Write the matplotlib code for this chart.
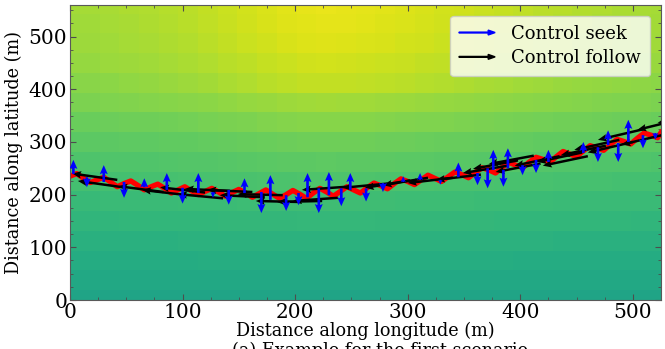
import matplotlib
matplotlib.use('Agg')
import matplotlib.pyplot as plt
import numpy as np
from matplotlib.lines import Line2D
from matplotlib.legend_handler import HandlerBase
from matplotlib.patches import FancyArrow

plt.rcParams['font.family'] = ['DejaVu Serif']

# background field: rows centred every 37.5 m, columns every 17.5 m
row_y = [0, 37.5, 75, 112.5, 150, 187.5, 225, 262.5, 300, 337.5, 375,
         412.5, 450, 487.5, 525, 562.5]
row_mid = [0.585, 0.60, 0.62, 0.64, 0.665, 0.69, 0.72, 0.75, 0.78, 0.82,
           0.86, 0.91, 0.93, 0.95, 0.96, 0.965]
row_edge = [0.583, 0.598, 0.615, 0.635, 0.655, 0.675, 0.70, 0.72, 0.745,
            0.77, 0.80, 0.82, 0.84, 0.85, 0.855, 0.86]
col_x = [0, 17.5, 35, 52.5, 70, 87.5, 105, 122.5, 140, 157.5, 175, 192.5,
         210, 227.5, 245, 262.5, 280, 297.5, 315, 332.5, 350, 367.5, 385,
         402.5, 420, 437.5, 455, 472.5, 490, 507.5, 525]
col_shape = [0.00, 0.04, 0.09, 0.15, 0.21, 0.28, 0.36, 0.46, 0.57, 0.68,
             0.79, 0.90, 0.97, 1.00, 0.98, 0.94, 0.89, 0.83, 0.77, 0.70,
             0.63, 0.56, 0.49, 0.42, 0.36, 0.30, 0.24, 0.19, 0.14, 0.10, 0.06]

# red trajectory
path_x = [0, 6, 12, 18, 24, 30, 36, 42, 48, 54, 60, 66, 72, 78, 84, 90, 96,
          102, 108, 114, 120, 126, 132, 138, 144, 150, 156, 162, 168, 174,
          180, 186, 192, 198, 204, 210, 216, 222, 228, 234, 240, 246, 252,
          258, 264, 270, 276, 282, 288, 294, 300, 306, 312, 318, 324, 330,
          336, 342, 348, 354, 360, 366, 372, 378, 384, 390, 396, 402, 408,
          414, 420, 426, 432, 438, 444, 450, 456, 462, 468, 474, 480, 486,
          492, 498, 504, 510, 516, 522, 525]
path_y = [235, 240, 231, 223, 228, 233, 224, 215, 221, 226, 218, 209, 215,
          220, 212, 203, 209, 215, 207, 200, 206, 212, 205, 197, 204, 210,
          203, 195, 202, 209, 201, 193, 200, 208, 201, 193, 203, 212, 205,
          197, 206, 215, 209, 203, 213, 222, 217, 211, 221, 230, 225, 219,
          228, 237, 231, 225, 234, 243, 238, 232, 242, 251, 247, 241, 252,
          261, 256, 251, 262, 271, 267, 261, 272, 282, 277, 272, 283, 293,
          289, 284, 295, 305, 301, 296, 307, 317, 313, 308, 318]

# black "follow" arrows (tip position and vector)
follow_x = [2, 7, 43, 64, 80, 96, 102, 122, 133, 149, 165, 184, 198, 206,
            242, 262, 278, 300, 325, 349, 358, 372, 378, 395, 415, 420, 436,
            448, 460, 469, 490, 504, 522]
follow_y = [240, 226, 216, 209, 214, 201, 211, 209, 199, 201, 188, 186, 188,
            209, 213, 213, 218, 222, 228, 241, 249, 258, 243, 255, 262, 255,
            275, 285, 280, 304, 295, 323, 336]
follow_u = [-40, -40, -40, -40, -40, -40, -40, -40, -40, -40, -40, -40, -40,
            -40, -40, -40, -40, -40, -40, -40, -40, -40, -40, -40, -40, -40,
            -40, -40, -40, -40, -40, -40, -40]
follow_v = [12, 12, 11, 10, 10, 8, 4, 4, 4, 2, 2, -2, -6, -6, -8, -14, -14,
            -10, -10, -14, -16, -16, -16, -18, -18, -18, -18, -19, -20, -20,
            -20, -21, -21]

# blue "seek" arrows (tail position and vertical length)
seek_x = [3, 15, 30, 48, 66, 86, 100, 114, 127, 141, 155, 170, 178, 192, 203,
          211, 221, 230, 241, 249, 263, 278, 296, 311, 329, 345, 362, 371,
          376, 385, 389, 402, 414, 425, 456, 469, 478, 487, 496, 509, 520]
seek_y = [239, 233, 224, 224, 214, 209, 213, 203, 205, 209, 203, 205, 190,
          199, 203, 195, 212, 199, 212, 209, 212, 222, 224, 228, 228, 233,
          241, 250, 247, 247, 250, 256, 266, 262, 279, 290, 294, 298, 300,
          313, 317]
seek_v = [27, -19, 32, -30, 17, 32, -30, 38, -11, -28, 28, -40, 47, -30, -23,
          46, -47, 44, -34, 32, -25, -17, 11, 13, -9, 28, -23, -38, 38, -32,
          38, -19, -25, 23, 21, -28, 28, -36, 42, -25, -13]

x_ticks = [0, 100, 200, 300, 400, 500]
y_ticks = [0, 100, 200, 300, 400, 500]


class ArrowHandler(HandlerBase):
    def create_artists(self, legend, orig_handle, xdescent, ydescent,
                       width, height, fontsize, trans):
        arr = FancyArrow(-xdescent, height / 2 - ydescent, width, 0,
                         width=0.6, head_width=3.5, head_length=5,
                         length_includes_head=True,
                         color=orig_handle.get_color(), transform=trans)
        return [arr]


row_mid_a = np.array(row_mid)[:, None]
row_edge_a = np.array(row_edge)[:, None]
field = row_edge_a + (row_mid_a - row_edge_a) * np.array(col_shape)[None, :]

fig = plt.figure(figsize=(6.65, 3.49), dpi=100)
ax = fig.add_axes([70 / 665, 1 - 300 / 349, 591 / 665, 295 / 349])

ax.pcolormesh(col_x, row_y, field, cmap='viridis', vmin=0, vmax=1,
              shading='nearest', zorder=0)
ax.plot(path_x, path_y, color='red', lw=3.8, zorder=2)
ax.quiver(follow_x, follow_y, follow_u, follow_v, color='black',
          angles='xy', scale_units='xy', scale=1, pivot='tip',
          width=0.0042, headwidth=3.0, headlength=3.6, headaxislength=3.2,
          zorder=3)
ax.quiver(seek_x, seek_y, np.zeros(len(seek_v)), seek_v, color='blue',
          angles='xy', scale_units='xy', scale=1, pivot='tail',
          width=0.0045, headwidth=3.0, headlength=3.4, headaxislength=3.0,
          zorder=4)

ax.set_xlim(0, 525)
ax.set_ylim(0, 560)
ax.set_xticks(x_ticks)
ax.set_yticks(y_ticks)
ax.xaxis.set_minor_locator(matplotlib.ticker.MultipleLocator(25))
ax.yaxis.set_minor_locator(matplotlib.ticker.MultipleLocator(25))
ax.tick_params(which='both', direction='in', top=True, right=True,
               labelsize=14.5, color='0.3')
ax.tick_params(which='major', length=4, pad=2)
ax.tick_params(which='minor', length=2)
for s in ax.spines.values():
    s.set_color('0.35')

ax.set_xlabel('Distance along longitude (m)', fontsize=12.7, labelpad=0)
ax.set_ylabel('Distance along latitude (m)', fontsize=12.7, labelpad=4)

h_seek = Line2D([], [], color='blue')
h_follow = Line2D([], [], color='black')
ax.legend([h_seek, h_follow], ['Control seek', 'Control follow'],
          handler_map={h_seek: ArrowHandler(), h_follow: ArrowHandler()},
          loc='upper right', fontsize=13, handlelength=2.0,
          handletextpad=0.9, borderaxespad=0.6, labelspacing=0.35,
          borderpad=0.5)

fig.text(232 / 665, 1 - 342 / 349, '(a) Example for the first scenario',
         fontsize=12.7, ha='left', va='top')

fig.savefig('out.png', dpi=100)
